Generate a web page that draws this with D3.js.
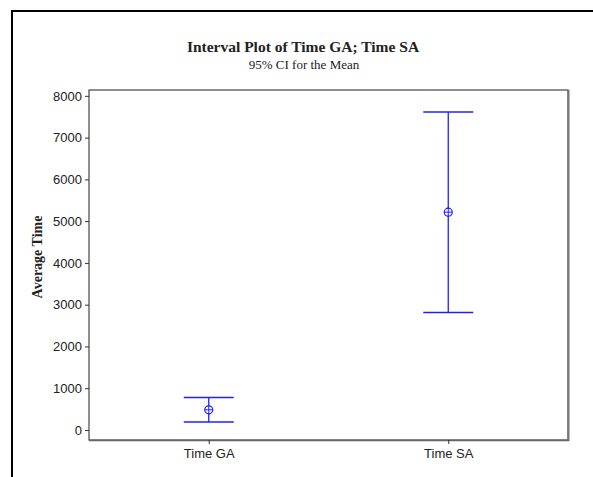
<!DOCTYPE html>
<html>
<head>
<meta charset="utf-8">
<script src="https://d3js.org/d3.v7.min.js"></script>
<style>
  body { margin: 0; background: white; }
  text { fill: #222; }
</style>
</head>
<body>
<svg width="593" height="477" id="chart"></svg>
<script>
// data
var categories = ["Time GA", "Time SA"];
var means = [483, 5215];
var lowerCI = [190, 2815];
var upperCI = [776, 7615];
var yTicks = [0, 1000, 2000, 3000, 4000, 5000, 6000, 7000, 8000];

var svg = d3.select("#chart");

// outer frame (runs off the right and bottom)
svg.append("rect")
  .attr("x", 12).attr("y", 11)
  .attr("width", 620).attr("height", 500)
  .attr("fill", "white")
  .attr("stroke", "black")
  .attr("stroke-width", 2);

var plotLeft = 89, plotRight = 568, plotTop = 90, plotBottom = 440;

var ys = d3.scaleLinear()
  .domain([-240, 8140])
  .range([plotBottom, plotTop]);

var xs = d3.scalePoint()
  .domain(categories)
  .range([plotLeft, plotRight])
  .padding(0.5);

// titles
svg.append("text")
  .attr("x", 303).attr("y", 52)
  .attr("text-anchor", "middle")
  .attr("font-family", "Liberation Serif")
  .attr("font-weight", "bold")
  .attr("font-size", "15.5px")
  .attr("fill", "#111")
  .text("Interval Plot of Time GA; Time SA");

svg.append("text")
  .attr("x", 304).attr("y", 69)
  .attr("text-anchor", "middle")
  .attr("font-family", "Liberation Serif")
  .attr("font-size", "13px")
  .attr("fill", "#111")
  .text("95% CI for the Mean");

// plot box
svg.append("rect")
  .attr("x", plotLeft).attr("y", plotTop)
  .attr("width", plotRight - plotLeft).attr("height", plotBottom - plotTop)
  .attr("fill", "none")
  .attr("stroke", "#444")
  .attr("stroke-width", 1.2);
svg.append("line")
  .attr("x1", plotRight + 0.5).attr("y1", plotTop)
  .attr("x2", plotRight + 0.5).attr("y2", plotBottom + 1)
  .attr("stroke", "#777").attr("stroke-width", 2);
svg.append("line")
  .attr("x1", plotLeft).attr("y1", plotBottom + 0.5)
  .attr("x2", plotRight + 1).attr("y2", plotBottom + 0.5)
  .attr("stroke", "#666").attr("stroke-width", 1.6);

// axes
var yAxis = svg.append("g")
  .attr("transform", "translate(" + plotLeft + ",0)")
  .call(d3.axisLeft(ys).tickValues(yTicks).tickSize(4).tickPadding(3).tickFormat(d3.format("d")));
yAxis.select(".domain").remove();
yAxis.selectAll("line").attr("stroke", "#333");
yAxis.selectAll("text")
  .attr("font-family", "Liberation Sans")
  .attr("font-size", "13px")
  .attr("fill", "#222");

var xAxis = svg.append("g")
  .attr("transform", "translate(0," + plotBottom + ")")
  .call(d3.axisBottom(xs).tickSize(4).tickPadding(5));
xAxis.select(".domain").remove();
xAxis.selectAll("line").attr("stroke", "#333");
xAxis.selectAll("text")
  .attr("font-family", "Liberation Sans")
  .attr("font-size", "13px")
  .attr("fill", "#222");

// y label
svg.append("text")
  .attr("transform", "translate(42,257) rotate(-90)")
  .attr("text-anchor", "middle")
  .attr("font-family", "Liberation Serif")
  .attr("font-weight", "bold")
  .attr("font-size", "14px")
  .attr("fill", "#111")
  .text("Average Time");

// intervals
var rows = categories.map(function(c, i) {
  return {cat: c, mean: means[i], lo: lowerCI[i], hi: upperCI[i]};
});
var blue = "#2020ff";
var capHalf = 25;

var g = svg.append("g")
  .selectAll("g")
  .data(rows)
  .enter().append("g");

g.append("line")
  .attr("x1", function(d) { return xs(d.cat); })
  .attr("x2", function(d) { return xs(d.cat); })
  .attr("y1", function(d) { return ys(d.lo); })
  .attr("y2", function(d) { return ys(d.hi); })
  .attr("stroke", blue).attr("stroke-width", 1.3);

g.append("line")
  .attr("x1", function(d) { return xs(d.cat) - capHalf; })
  .attr("x2", function(d) { return xs(d.cat) + capHalf; })
  .attr("y1", function(d) { return ys(d.hi); })
  .attr("y2", function(d) { return ys(d.hi); })
  .attr("stroke", blue).attr("stroke-width", 1.5);

g.append("line")
  .attr("x1", function(d) { return xs(d.cat) - capHalf; })
  .attr("x2", function(d) { return xs(d.cat) + capHalf; })
  .attr("y1", function(d) { return ys(d.lo); })
  .attr("y2", function(d) { return ys(d.lo); })
  .attr("stroke", blue).attr("stroke-width", 1.5);

// mean marker: circle with cross
g.append("circle")
  .attr("cx", function(d) { return xs(d.cat); })
  .attr("cy", function(d) { return ys(d.mean); })
  .attr("r", 4)
  .attr("fill", "white")
  .attr("stroke", blue).attr("stroke-width", 1.2);

g.append("line")
  .attr("x1", function(d) { return xs(d.cat) - 4; })
  .attr("x2", function(d) { return xs(d.cat) + 4; })
  .attr("y1", function(d) { return ys(d.mean); })
  .attr("y2", function(d) { return ys(d.mean); })
  .attr("stroke", blue).attr("stroke-width", 1);

g.append("line")
  .attr("x1", function(d) { return xs(d.cat); })
  .attr("x2", function(d) { return xs(d.cat); })
  .attr("y1", function(d) { return ys(d.mean) - 5; })
  .attr("y2", function(d) { return ys(d.mean) + 5; })
  .attr("stroke", blue).attr("stroke-width", 1);
</script>
</body>
</html>
